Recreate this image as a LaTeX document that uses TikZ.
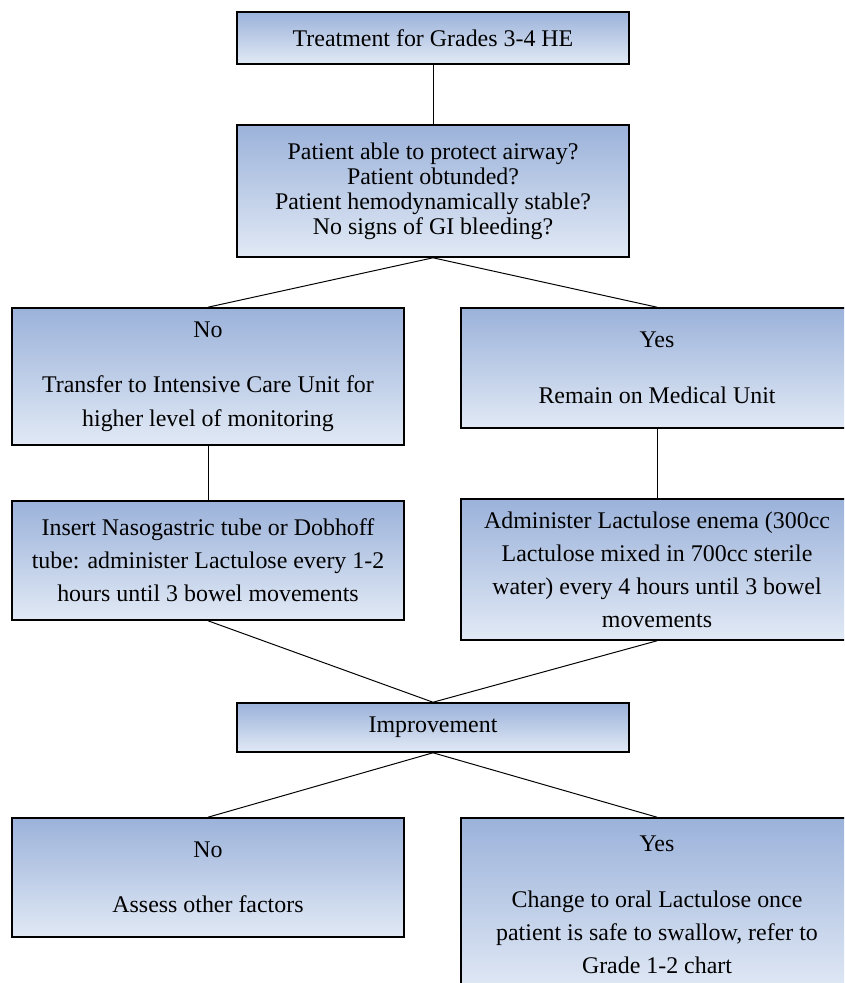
\documentclass[tikz,border=0pt]{standalone}
\usepackage{fontspec}
\setmainfont{Liberation Serif}
\usepackage{tikz}
\usetikzlibrary{positioning}
\definecolor{boxtop}{RGB}{155,178,218}
\definecolor{boxbot}{RGB}{225,233,245}
\begin{document}
\begin{tikzpicture}[x=0.025cm,y=-0.025cm,
        box/.style={draw=black, line width=1.1pt, top color=boxtop, bottom color=boxbot,
                align=center, inner sep=0pt, minimum width=9.8cm,
                font=\fontsize{17}{23.5}\selectfont},
        tight/.style={font=\fontsize{17}{17.8}\selectfont},
        link/.style={black, line width=0.7pt}]
        \clip (0,0) rectangle (844,983);
        \fill[white] (0,0) rectangle (844,983);
        \node[box, minimum height=1.3cm] (start) at (433,38) {Treatment for Grades 3-4 HE};
        \node[box, tight, minimum height=3.3cm] (check) at (433,191) {Patient able to protect airway?\\Patient obtunded?\\Patient hemodynamically stable?\\No signs of GI bleeding?};
        \node[box, minimum height=3.425cm] (icu) at (208,376.5) {No\\[16pt]Transfer to Intensive Care Unit for\\higher level of monitoring};
        \node[box, minimum height=3cm] (unit) at (657,368) {Yes\\[16pt]Remain on Medical Unit};
        \node[box, minimum height=2.975cm] (tube) at (208,560.5) {Insert Nasogastric tube or Dobhoff\\tube: administer Lactulose every 1-2\\hours until 3 bowel movements};
        \node[box, minimum height=3.525cm] (enema) at (657,569.5) {Administer Lactulose enema (300cc\\Lactulose mixed in 700cc sterile\\water) every 4 hours until 3 bowel\\movements};
        \node[box, minimum height=1.225cm] (better) at (433,727.5) {Improvement};
        \node[box, minimum height=2.975cm] (other) at (208,877.5) {No\\[16pt]Assess other factors};
        \node[box, minimum height=4.35cm] (oral) at (657,905) {Yes\\[16pt]Change to oral Lactulose once\\patient is safe to swallow, refer to\\Grade 1-2 chart};
        % connectors
        \draw[link] (start.south) -- (check.north);
        \draw[link] (check.south) -- (icu.north);
        \draw[link] (check.south) -- (unit.north);
        \draw[link] (icu.south) -- (tube.north);
        \draw[link] (unit.south) -- (enema.north);
        \draw[link] (tube.south) -- (better.north);
        \draw[link] (enema.south) -- (better.north);
        \draw[link] (better.south) -- (other.north);
        \draw[link] (better.south) -- (oral.north);
\end{tikzpicture}
\end{document}
